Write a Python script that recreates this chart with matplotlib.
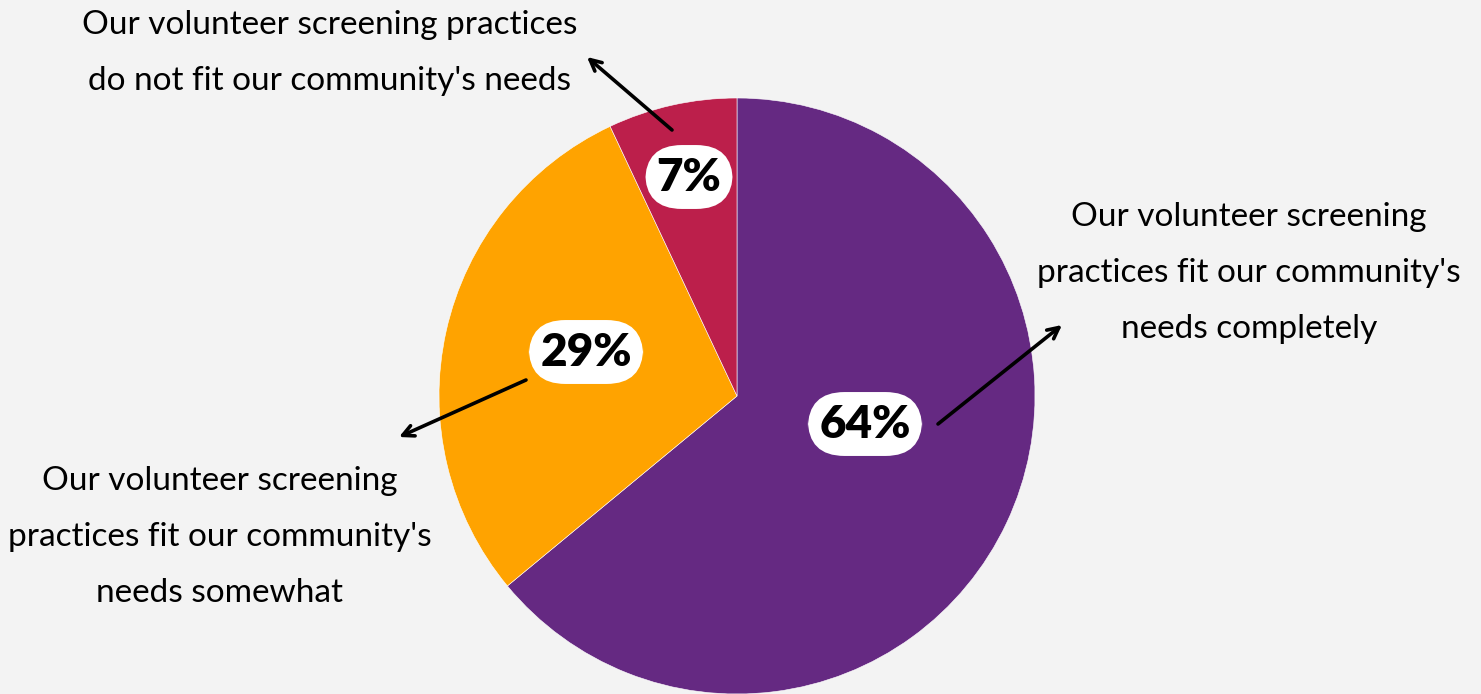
import matplotlib.pyplot as plt

shares = [64, 29, 7]
pct_labels = ['64%', '29%', '7%']
colors = ['#652982', '#ffa300', '#bc1f4b']
descs = [
    "Our volunteer screening\npractices fit our community's\nneeds completely",
    "Our volunteer screening\npractices fit our community's\nneeds somewhat",
    "Our volunteer screening practices\ndo not fit our community's needs",
]

W, H = 1481, 694
fig = plt.figure(figsize=(W / 100, H / 100), dpi=100)
fig.patch.set_facecolor('#f3f3f3')
ax = fig.add_axes([0, 0, 1, 1])

cx, cy, r = 737, H - 396, 298
ax.pie(shares, colors=colors, startangle=90, counterclock=False,
       center=(cx, cy), radius=r, frame=True,
       wedgeprops=dict(edgecolor='white', linewidth=0.4))
ax.set_xlim(0, W)
ax.set_ylim(0, H)
ax.set_aspect('equal')
ax.axis('off')

# percentage badges
badge_pos = [(865, 424), (586, 352), (689, 177)]
for (x, y), t in zip(badge_pos, pct_labels):
    ax.text(x, H - y, t, ha='center', va='center', fontsize=33, fontweight='heavy',
            family='Lato', color='black',
            bbox=dict(boxstyle='round,pad=0.25,rounding_size=0.8', fc='white', ec='none'))

# arrows
arrows = [((938, 424), (1062, 325)), ((526, 380), (399, 437)), ((672, 130), (587, 57))]
for (x0, y0), (x1, y1) in arrows:
    ax.annotate('', xy=(x1, H - y1), xytext=(x0, H - y0),
                arrowprops=dict(arrowstyle='->', color='black', lw=2.6,
                                mutation_scale=20, shrinkA=0, shrinkB=0))

desc_pos = [(1249, 273), (220, 537), (330, 53)]
for (x, y), t in zip(desc_pos, descs):
    ax.text(x, H - y, t, ha='center', va='center', fontsize=24, family='Lato',
            color='black', linespacing=2.07)

fig.savefig('out.png', dpi=100, facecolor=fig.get_facecolor())
